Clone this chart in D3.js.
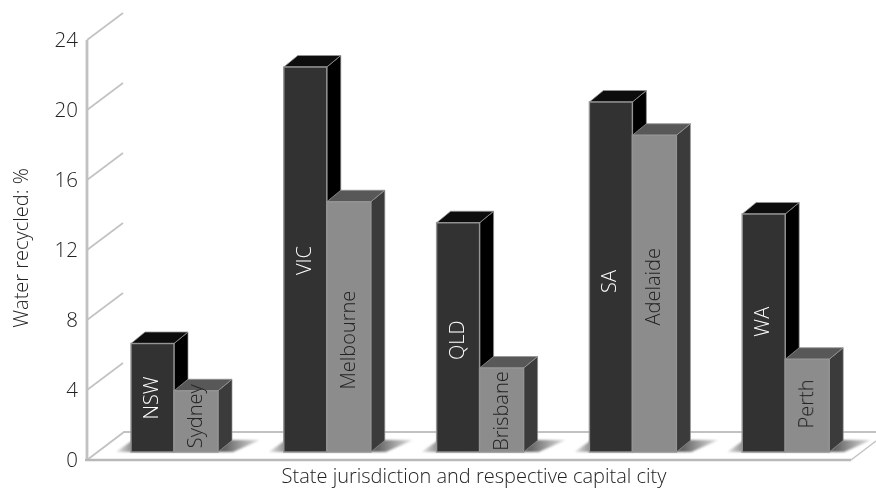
<!DOCTYPE html>
<html><head><meta charset="utf-8">
<script src="https://cdn.jsdelivr.net/npm/d3@7/dist/d3.min.js"></script>
<style>html,body{margin:0;background:#fff}svg{display:block}text{font-family:"Open Sans",sans-serif;fill:#222}</style>
</head><body><svg id="c" width="876" height="489"></svg>
<script>
const states=["NSW","VIC","QLD","SA","WA"];
const cities=["Sydney","Melbourne","Brisbane","Adelaide","Perth"];
const stateValues=[6.2,22,13.1,20,13.6];
const cityValues=[3.5,14.3,4.8,18.1,5.3];
// height on the value axis at which each rotated label is centred
const stateLabelAt=[3.55,11.4,6.85,10.2,7.9];
const cityLabelAt=[2.5,6.85,2.8,9.9,3.2];
const yTicks=[0,4,8,12,16,20,24];
const axisTitleY="Water recycled: %";
const axisTitleX="State jurisdiction and respective capital city";

const svg=d3.select("#c");
const y=d3.scaleLinear().domain([0,24]).range([460,40]);
const x=d3.scaleBand().domain(states).range([131,895]);
const barW=44, dGrid=[36,-27], dBar=[14,-11.5], base=8;
const poly=p=>p.map(q=>q.join(",")).join(" ");

const defs=svg.append("defs");
const f=defs.append("filter").attr("id","blur").attr("x","-20%").attr("y","-50%").attr("width","140%").attr("height","200%");
f.append("feGaussianBlur").attr("stdDeviation",1.2);
const soft=defs.append("filter").attr("id","soft");soft.append("feGaussianBlur").attr("stdDeviation",0.45);
const tsoft=defs.append("filter").attr("id","tsoft").attr("filterUnits","userSpaceOnUse").attr("x",0).attr("y",0).attr("width",876).attr("height",489);
tsoft.append("feGaussianBlur").attr("stdDeviation",0.22);
const gr=defs.append("linearGradient").attr("id","shade");
[[0,"#e8e8e8"],[0.14,"#777"],[0.76,"#666"],[1,"#e4e4e4"]].forEach(s=>gr.append("stop").attr("offset",s[0]).attr("stop-color",s[1]));

const grid="#c2c2c2";
const x0=87,xEnd=851,yF=y(0);
const floor=svg.append("g").attr("filter","url(#tsoft)");
floor.append("polyline").attr("points",poly([[x0,yF],[x0+dGrid[0]+1,yF+dGrid[1]-1],[876,yF+dGrid[1]-1]])).attr("fill","none").attr("stroke",grid).attr("stroke-width",1.8);
floor.append("line").attr("x1",xEnd).attr("y1",yF).attr("x2",876).attr("y2",yF-19).attr("stroke",grid).attr("stroke-width",1.5);
floor.selectAll(".g").data(yTicks.slice(1)).join("line").attr("class","g")
 .attr("x1",x0).attr("y1",d=>y(d)).attr("x2",x0+dGrid[0]).attr("y2",d=>y(d)+dGrid[1]).attr("stroke",grid).attr("stroke-width",1.6);
floor.append("line").attr("x1",x0).attr("x2",x0).attr("y1",y(24)).attr("y2",yF).attr("stroke",grid).attr("stroke-width",2.8);
floor.append("line").attr("x1",x0-2).attr("x2",xEnd).attr("y1",yF).attr("y2",yF).attr("stroke","#b8b8b8").attr("stroke-width",2.4);

svg.selectAll(".s").data(states).join("polygon").attr("class","s")
 .attr("points",d=>{const l=x(d),b=yF-base;return poly([[l-15,b],[l+2,b-12],[l+2*barW+41,b-12],[l+2*barW+14,b]]);})
 .attr("fill","url(#shade)").attr("filter","url(#blur)");

function bar(g,l,v,w,front,top,side){
 const t=y(v)-base,b=yF-base,dx=dBar[0],dy=dBar[1],e="#949494";
 g.append("polygon").attr("points",poly([[l+w,t],[l+w+dx,t+dy],[l+w+dx,b+dy],[l+w,b]])).attr("fill",side).attr("stroke",e).attr("stroke-width",.7);
 g.append("polygon").attr("points",poly([[l,t],[l+dx,t+dy],[l+w+dx,t+dy],[l+w,t]])).attr("fill",top).attr("stroke",e).attr("stroke-width",.8);
 g.append("rect").attr("x",l).attr("y",t).attr("width",w).attr("height",b-t).attr("fill",front).attr("stroke",e).attr("stroke-width",1.4);
}
const bars=svg.append("g").attr("filter","url(#soft)");
states.forEach((s,i)=>{
 const l=x(s);
 bar(bars,l,stateValues[i],barW-1,"#333333","#0d0d0d","#000000");
 bar(bars,l+barW-1,cityValues[i],barW,"#8c8c8c","#595959","#3a3a3a");
});

const txt=svg.append("g").attr("filter","url(#tsoft)");
const lab=(xx,yy,t,c)=>txt.append("text").attr("transform",`translate(${xx},${yy}) rotate(-90)`).attr("text-anchor","middle").attr("font-size",20).attr("font-weight",300).style("fill",c).text(t);
states.forEach((s,i)=>{
 lab(x(s)+27,y(stateLabelAt[i]),s,"#fff");
 lab(x(s)+71,y(cityLabelAt[i]),cities[i],"#222");
});
const axis=d3.axisLeft(y).tickValues(yTicks).tickSize(0).tickPadding(9);
const ag=txt.append("g").attr("transform",`translate(${x0},0)`).call(axis);
ag.select(".domain").remove();
ag.selectAll("text").attr("font-size",20.5).attr("font-weight",300).style("font-family",'"Open Sans",sans-serif').style("fill","#222");
txt.append("text").attr("transform","translate(28,248) rotate(-90)").attr("text-anchor","middle").attr("font-size",20).attr("font-weight",300).text(axisTitleY);
txt.append("text").attr("x",474).attr("y",483).attr("text-anchor","middle").attr("font-size",20).attr("font-weight",300).text(axisTitleX);
</script></body></html>
